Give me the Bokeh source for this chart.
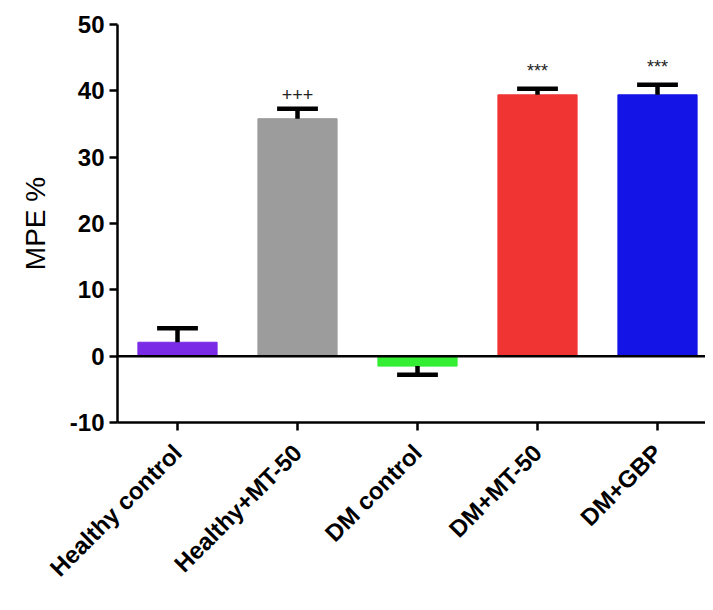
import math
from bokeh.plotting import figure
from bokeh.models import Range1d, FixedTicker, Span, ColumnDataSource, Label
from bokeh.embed import file_html
from bokeh.resources import INLINE

categories = ["Healthy control", "Healthy+MT-50", "DM control", "DM+MT-50", "DM+GBP"]
means = [2.1, 35.8, -1.5, 39.4, 39.4]
errors = [2.1, 1.5, 1.3, 0.9, 1.5]
colors = ["#7A2BE6", "#9C9C9C", "#33EE33", "#F03434", "#1414E6"]
marks = ["", "+++", "", "***", "***"]
y_ticks = [-10, 0, 10, 20, 30, 40, 50]

xs = [i + 0.5 for i in range(len(categories))]
ends = [m + e if m >= 0 else m - e for m, e in zip(means, errors)]
half_bar = 0.33
half_cap = 0.17

src = ColumnDataSource(dict(
    x=xs, top=means, color=colors, end=ends,
    cl=[x - half_cap for x in xs], cr=[x + half_cap for x in xs],
    ))

p = figure(width=705, height=594, output_backend="svg", toolbar_location=None,
           x_range=Range1d(0, 4.9), y_range=Range1d(-10, 50),
           min_border_left=117, min_border_right=0, min_border_top=24,
           min_border_bottom=171)
p.outline_line_color = None
p.grid.visible = False
p.background_fill_color = "white"

p.vbar(x="x", width=2 * half_bar, top="top", bottom=0, color="color", source=src)
p.segment(x0="x", y0="top", x1="x", y1="end", line_color="black", line_width=4.5, source=src)
p.segment(x0="cl", y0="end", x1="cr", y1="end", line_color="black", line_width=4.5, source=src)

for x, e, m in zip(xs, ends, marks):
    if m:
        p.add_layout(Label(x=x, y=e, text=m, text_align="center", text_baseline="bottom",
                           y_offset=8, text_font="Liberation Sans", text_font_size="18px",
                           text_color="#222222"))

p.add_layout(Span(location=0, dimension="width", line_color="black", line_width=2.5))

p.xaxis.ticker = FixedTicker(ticks=xs)
p.xaxis.major_label_overrides = {x: c for x, c in zip(xs, categories)}
p.xaxis.major_label_orientation = math.pi / 4
p.xaxis.major_label_standoff = 18
p.yaxis.ticker = FixedTicker(ticks=y_ticks)
p.yaxis.major_label_overrides = {-10: "-10"}
p.yaxis.axis_label = "MPE %"

for ax in (p.xaxis, p.yaxis):
    ax.axis_line_color = "black"
    ax.axis_line_width = 2.5
    ax.major_tick_line_color = "black"
    ax.major_tick_line_width = 2.5
    ax.major_tick_in = 0
    ax.major_tick_out = 8
    ax.minor_tick_line_color = None
    ax.major_label_text_font = "Liberation Sans"
    ax.major_label_text_font_style = "bold"
    ax.major_label_text_color = "black"

p.xaxis.major_label_text_font_size = "24px"
p.yaxis.major_label_text_font_size = "24px"
p.yaxis.axis_label_text_font = "Liberation Sans"
p.yaxis.axis_label_text_font_style = "normal"
p.yaxis.axis_label_text_font_size = "28px"
p.yaxis.axis_label_text_color = "black"
p.yaxis.axis_label_standoff = 16

open("out.html", "w").write(file_html(p, INLINE))
